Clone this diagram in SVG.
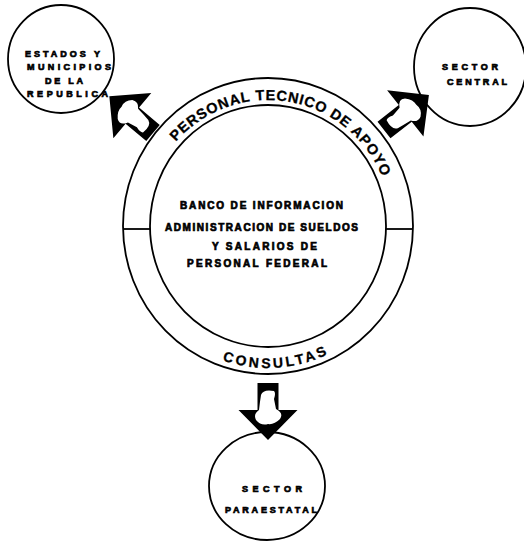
<svg xmlns="http://www.w3.org/2000/svg" width="524" height="550" viewBox="0 0 524 550">
<style>
.ln{fill:none;stroke:#000;stroke-width:1.8}
.t{font-family:"Liberation Sans",Arial,sans-serif;font-weight:bold;fill:#000}
.s{font-size:9px;stroke:#000;stroke-width:0.7}
.m{font-size:10px;stroke:#000;stroke-width:0.7}
.arc{font-size:14.5px;stroke:#000;stroke-width:0.3}
.con{font-size:14px;stroke:#000;stroke-width:0.3}
</style>
<defs>
<g id="arrow">
<path d="M0,-10.5 L27,-10.5 L27,-29.5 L57,0 L27,29.5 L27,10.5 L0,10.5 Z" fill="#000"/>
<path d="M8,-6 Q10,-8 16,-6 L26,-8 Q30,-16 36,-12 Q42,-6 41,0 Q43,7 37,12 Q31,15 27,9 Q18,8 12,7 Q6,5 8,-6 Z" fill="#fff"/>
</g>
<path id="topArc" d="M144,226 A124,126 0 0 1 392,226"/>
<path id="botArc" d="M129,226 A139,142 0 0 0 407,226"/>
</defs>

<g id="banco">
<ellipse class="ln" cx="268" cy="226" rx="145" ry="148"/>
<ellipse class="ln" cx="268" cy="226" rx="118" ry="121"/>
<line class="ln" x1="123" y1="229" x2="150" y2="229"/>
<line class="ln" x1="386" y1="229" x2="413" y2="229"/>
<text class="t arc"><textPath href="#topArc" startOffset="92" textLength="250" lengthAdjust="spacing">PERSONAL TECNICO DE APOYO</textPath></text>
<text class="t con"><textPath href="#botArc" startOffset="174" textLength="108" lengthAdjust="spacing">CONSULTAS</textPath></text>
<text class="t m" x="180" y="209" textLength="163" lengthAdjust="spacing">BANCO DE INFORMACION</text>
<text class="t m" x="165" y="231" textLength="193" lengthAdjust="spacing">ADMINISTRACION DE SUELDOS</text>
<text class="t m" x="212" y="250" textLength="105" lengthAdjust="spacing">Y SALARIOS DE</text>
<text class="t m" x="187" y="267" textLength="140" lengthAdjust="spacing">PERSONAL  FEDERAL</text>
</g>

<g id="estados">
<ellipse class="ln" cx="61" cy="59" rx="53" ry="54"/>
<text class="t s" x="25" y="56.5" textLength="75" lengthAdjust="spacing">ESTADOS Y</text>
<text class="t s" x="27" y="70" textLength="84" lengthAdjust="spacing">MUNICIPIOS</text>
<text class="t s" x="45" y="83.5" textLength="38" lengthAdjust="spacing">DE LA</text>
<text class="t s" x="27" y="97" textLength="81" lengthAdjust="spacing">REPUBLICA</text>
</g>

<g id="central">
<ellipse class="ln" cx="470" cy="67" rx="56" ry="59"/>
<text class="t s" x="442" y="70" textLength="56" lengthAdjust="spacing">SECTOR</text>
<text class="t s" x="447" y="85" textLength="60" lengthAdjust="spacing">CENTRAL</text>
</g>

<g id="paraestatal">
<ellipse class="ln" cx="267" cy="486" rx="58" ry="54"/>
<text class="t s" x="242" y="492" textLength="60" lengthAdjust="spacing">SECTOR</text>
<text class="t s" x="225" y="513" textLength="92" lengthAdjust="spacing">PARAESTATAL</text>
</g>

<g id="connectors">
<use href="#arrow" transform="translate(153,133) rotate(220)"/>
<use href="#arrow" transform="translate(384,130) rotate(-38)"/>
<use href="#arrow" transform="translate(268,383) rotate(90)"/>
</g>
</svg>
